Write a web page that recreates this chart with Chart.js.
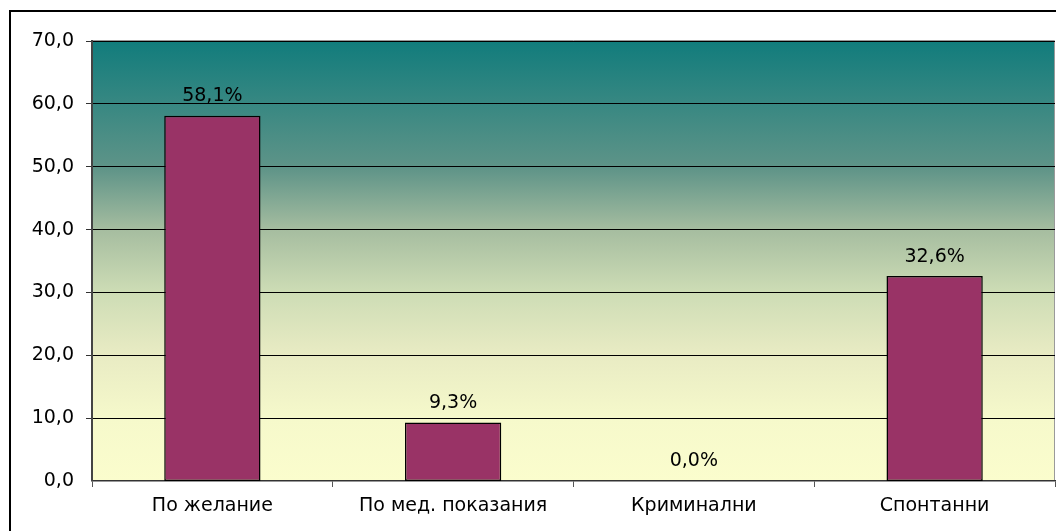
<!DOCTYPE html>
<html>
<head>
<meta charset="utf-8">
<script src="https://cdn.jsdelivr.net/npm/chart.js@4/dist/chart.umd.min.js"></script>
<style>
  html, body { margin: 0; padding: 0; background: #fff; }
  #wrap { width: 1056px; height: 531px; }
</style>
</head>
<body>
<div id="wrap"><canvas id="myChart" width="1056" height="531"></canvas></div>
<script>
var Categorias = ['По желание', 'По мед. показания', 'Криминални', 'Спонтанни']
var Valores = [58.1, 9.3, 0.0, 32.6]
var Etiquetas = ['58,1%', '9,3%', '0,0%', '32,6%']

var FUENTE = '"DejaVu Sans", "Liberation Sans", Arial, sans-serif'

function coma(v) {
    return v.toFixed(1).replace('.', ',')
}

// fondo degradado del area del grafico y marco exterior
var fondoPlugin = {
    id: 'fondo',
    beforeDraw: function (chart) {
        var c = chart.ctx
        var a = chart.chartArea
        c.save()
        c.strokeStyle = '#000'
        c.lineWidth = 2
        c.strokeRect(10, 11, 1060, 540)
        var g = c.createLinearGradient(0, a.top, 0, a.bottom)
        g.addColorStop(0, '#117c7c')
        g.addColorStop(0.29, '#5f9488')
        g.addColorStop(0.43, '#a6bda0')
        g.addColorStop(0.57, '#cddcb5')
        g.addColorStop(0.71, '#e8ebc3')
        g.addColorStop(0.86, '#f6f9cb')
        g.addColorStop(1, '#fbfdcd')
        c.fillStyle = g
        c.fillRect(a.left, a.top, a.right - a.left, a.bottom - a.top)
        c.strokeStyle = '#9a9a9a'
        c.lineWidth = 1
        c.beginPath()
        c.moveTo(a.left, a.top - 0.5)
        c.lineTo(a.right - 0.5, a.top - 0.5)
        c.lineTo(a.right - 0.5, a.bottom)
        c.stroke()
        c.restore()
    }
}

var etiquetasPlugin = {
    id: 'etiquetas',
    afterDatasetsDraw: function (chart) {
        var c = chart.ctx
        var meta = chart.getDatasetMeta(0)
        c.save()
        c.fillStyle = '#000'
        c.font = '19px ' + FUENTE
        c.textAlign = 'center'
        c.textBaseline = 'bottom'
        meta.data.forEach(function (bar, i) {
            c.fillText(Etiquetas[i], bar.x, bar.y - 10)
        })
        c.restore()
    }
}

var ctx = document.getElementById('myChart')
var chartData = {
    type: 'bar',
    data: {
        labels: Categorias,
        datasets: [{
            data: Valores,
            backgroundColor: '#993366',
            borderColor: '#000',
            borderWidth: 1.5,
            borderSkipped: false,
            categoryPercentage: 0.4,
            barPercentage: 1
        }]
    },
    options: {
        responsive: false,
        animation: false,
        layout: { padding: { top: 41, right: 1, left: 0, bottom: 0 } },
        plugins: {
            legend: { display: false },
            tooltip: { enabled: false }
        },
        scales: {
            x: {
                afterFit: function (s) { s.height = 50 },
                grid: {
                    display: true,
                    drawOnChartArea: false,
                    offset: true,
                    color: '#555',
                    tickLength: 6
                },
                border: { color: '#333', width: 1.5 },
                ticks: {
                    color: '#000',
                    padding: 8,
                    font: { family: FUENTE, size: 19 }
                }
            },
            y: {
                min: 0,
                max: 70,
                afterFit: function (s) { s.width = 92 },
                grid: {
                    color: '#000',
                    tickColor: '#333',
                    tickLength: 6,
                    lineWidth: function (c) { return c.tick.value === 0 ? 0 : 1 }
                },
                border: { color: '#444', width: 2 },
                ticks: {
                    stepSize: 10,
                    color: '#000',
                    padding: 12,
                    font: { family: FUENTE, size: 19 },
                    callback: function (v) { return coma(v) }
                }
            }
        }
    },
    plugins: [fondoPlugin, etiquetasPlugin]
}
var myChart = new Chart(ctx, chartData)
</script>
</body>
</html>
